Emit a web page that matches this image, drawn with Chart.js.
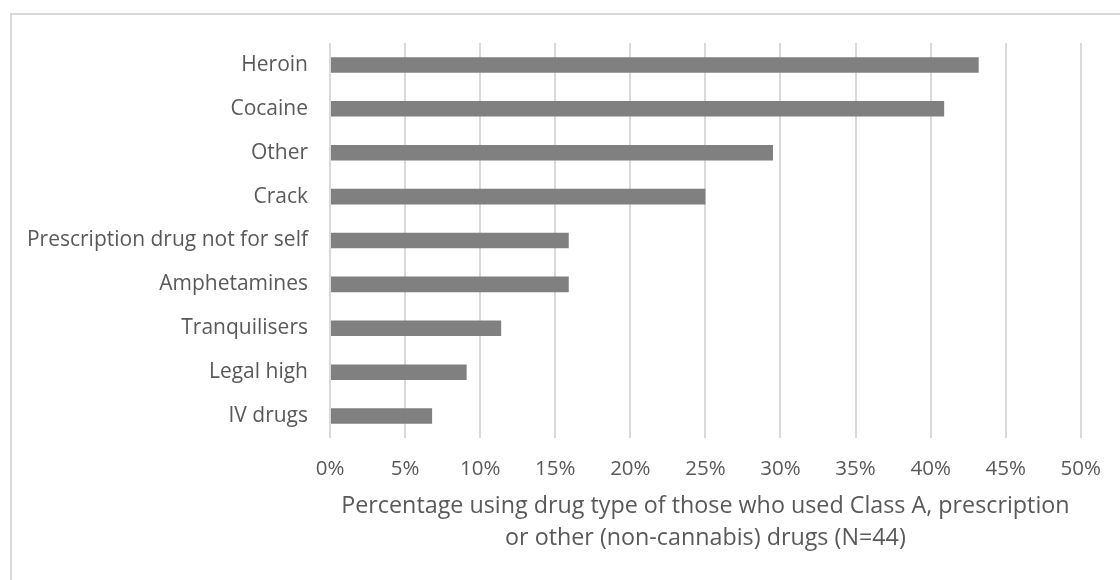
<!DOCTYPE html>
<html>
<head>
<meta charset="utf-8">
<script src="https://cdn.jsdelivr.net/npm/chart.js@4.4.1/dist/chart.umd.min.js"></script>
<style>
  html, body { margin: 0; padding: 0; background: #ffffff; }
  #wrap { position: relative; width: 1120px; height: 580px; }
</style>
</head>
<body>
<div id="wrap"><canvas id="chart" width="1120" height="580"></canvas></div>
<script>
// Drug types, top to bottom
const categories = [
  'Heroin',
  'Cocaine',
  'Other',
  'Crack',
  'Prescription drug not for self',
  'Amphetamines',
  'Tranquilisers',
  'Legal high',
  'IV drugs'
];

// Percentage of respondents using each drug type
const percentUsing = [43.2, 40.9, 29.5, 25.0, 15.9, 15.9, 11.4, 9.1, 6.8];

// Axis range and tick spacing (percent)
const axisMin = 0;
const axisMax = 50;
const axisStep = 5;

const axisTitle = [
  'Percentage using drug type of those who used Class A, prescription',
  'or other (non-cannabis) drugs (N=44)'
];

const FONT = '"Open Sans", "DejaVu Sans", sans-serif';
const TEXT = '#595959';
const GRID = '#d9d9d9';

// Light grey frame around the chart
const framePlugin = {
  id: 'frame',
  beforeDraw(chart) {
    const ctx = chart.ctx;
    ctx.save();
    ctx.fillStyle = '#ffffff';
    ctx.fillRect(0, 0, chart.width, chart.height);
    ctx.strokeStyle = GRID;
    ctx.lineWidth = 2;
    ctx.strokeRect(11, 14, chart.width + 20, chart.height + 20);
    ctx.restore();
  }
};

new Chart(document.getElementById('chart'), {
  type: 'bar',
  data: {
    labels: categories,
    datasets: [{
      data: percentUsing,
      backgroundColor: '#808080',
      borderWidth: 0,
      barPercentage: 0.355,
      categoryPercentage: 1
    }]
  },
  plugins: [framePlugin],
  options: {
    indexAxis: 'y',
    responsive: false,
    animation: false,
    layout: { padding: { top: 43, right: 35, left: 0, bottom: 0 } },
    plugins: {
      legend: { display: false },
      tooltip: { enabled: false }
    },
    scales: {
      x: {
        min: axisMin,
        max: axisMax,
        afterFit(scale) { scale.height = 142; },
        ticks: {
          stepSize: axisStep,
          padding: 19,
          color: TEXT,
          font: { family: FONT, size: 20.5 },
          callback: (v) => v + '%'
        },
        grid: { color: GRID, lineWidth: 2, drawTicks: false },
        border: { display: false },
        title: {
          display: true,
          text: axisTitle,
          color: TEXT,
          font: { family: FONT, size: 23.3, lineHeight: 32 / 23.3 },
          padding: { top: 0, bottom: 26 }
        }
      },
      y: {
        afterFit(scale) { scale.width = 330; },
        ticks: {
          padding: 22,
          color: TEXT,
          font: { family: FONT, size: 21 }
        },
        grid: { display: false, drawTicks: false },
        border: { display: false }
      }
    }
  }
});
</script>
</body>
</html>
